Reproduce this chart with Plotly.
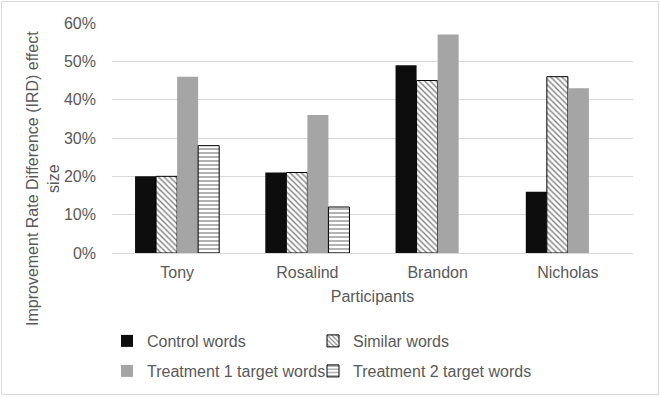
import plotly.graph_objects as go

participants = ["Tony", "Rosalind", "Brandon", "Nicholas"]
control_words = [0.20, 0.21, 0.49, 0.16]
similar_words = [0.20, 0.21, 0.45, 0.46]
treatment1_words = [0.46, 0.36, 0.57, 0.43]
treatment2_words = [0.28, 0.12, None, None]
y_ticks = [0, 0.1, 0.2, 0.3, 0.4, 0.5, 0.6]

FONT = "Liberation Sans, Arial, sans-serif"
TXT = "#595959"
FS = 16

fig = go.Figure()
fig.add_trace(go.Bar(name="Control words", x=participants, y=control_words,
                     marker=dict(color="#0d0d0d", line=dict(width=0)), legend="legend"))
fig.add_trace(go.Bar(name="Similar words", x=participants, y=similar_words,
                     marker=dict(color="white", line=dict(color="black", width=1),
                                 pattern=dict(shape="\\", fgcolor="black", bgcolor="white",
                                              size=4, solidity=0.35)),
                     legend="legend2"))
fig.add_trace(go.Bar(name="Treatment 1 target words", x=participants, y=treatment1_words,
                     marker=dict(color="#a5a5a5", line=dict(width=0)), legend="legend3"))
fig.add_trace(go.Bar(name="Treatment 2 target words", x=participants, y=treatment2_words,
                     marker=dict(color="white", line=dict(color="black", width=1),
                                 pattern=dict(shape="-", fgcolor="black", bgcolor="white",
                                              size=4, solidity=0.3)),
                     legend="legend4"))

L, R, T, B = 112, 27, 23, 145
W, H = 660, 398
pw, ph = W - L - R, H - T - B

def px(x):
    return (x - L) / pw

def py(y):
    return (H - B - y) / ph

def leg(x, y):
    return dict(orientation="h", x=px(x), y=py(y), xanchor="left", yanchor="top",
                itemwidth=30, font=dict(size=FS, color=TXT), bgcolor="rgba(0,0,0,0)")

fig.update_layout(
    width=W, height=H,
    margin=dict(l=L, r=R, t=T, b=B, autoexpand=False),
    paper_bgcolor="white", plot_bgcolor="white",
    font=dict(family=FONT, size=FS, color=TXT),
    barmode="group", bargap=0.354, bargroupgap=0,
    showlegend=True,
    legend=leg(107, 324),
    legend2=leg(313, 324),
    legend3=leg(107, 354),
    legend4=leg(313, 354),
    xaxis=dict(showgrid=False, showline=False, ticks="", tickfont=dict(size=FS, color=TXT),
               ticklabelstandoff=8,
               title=dict(text="Participants", font=dict(size=FS, color=TXT), standoff=10)),
    yaxis=dict(range=[0, 0.6], tickvals=y_ticks, tickformat=".0%", showgrid=True,
               gridcolor="#d9d9d9", gridwidth=1, zeroline=True, zerolinecolor="#d9d9d9",
               zerolinewidth=1, showline=False, tickfont=dict(size=FS, color=TXT),
               ticklabelstandoff=15),
    shapes=[dict(type="rect", xref="paper", yref="paper",
                 x0=px(1.5), x1=px(658.5), y0=py(394.5), y1=py(1.5),
                 line=dict(color="#d9d9d9", width=1), fillcolor="rgba(0,0,0,0)", layer="below")],
    annotations=[dict(text="Improvement Rate Difference (IRD) effect<br>size",
                      xref="paper", yref="paper", x=px(43), y=py(179),
                      xanchor="center", yanchor="middle", textangle=-90, showarrow=False,
                      font=dict(size=FS, color=TXT), align="center")],
)

fig.write_html("out.html", config={"displayModeBar": False},
               post_script="document.body.style.margin='0';")
